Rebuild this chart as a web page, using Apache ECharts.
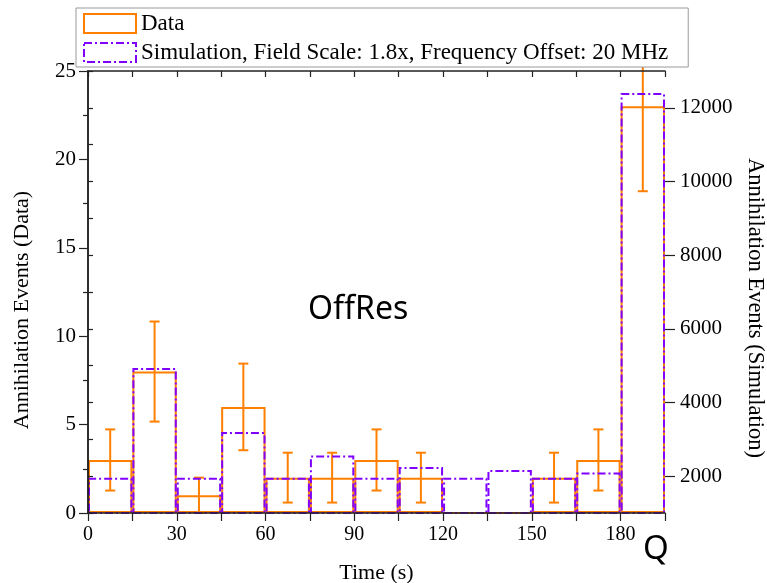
<!DOCTYPE html>
<html><head><meta charset="utf-8">
<script src="https://cdn.jsdelivr.net/npm/echarts@6/dist/echarts.min.js"></script>
<style>html,body{margin:0;padding:0;background:#fff}#c{width:767px;height:583px}</style>
</head><body><div id="c"></div>
<script>
// ---- data ----
const binLabels = ['0-15','15-30','30-45','45-60','60-75','75-90','90-105','105-120','120-135','135-150','150-165','165-180','180-195'];
const dataCounts = [3, 8, 1, 6, 2, 2, 3, 2, 0, 0, 2, 3, 23];
const dataErrLow = [1.27, 5.17, 0, 3.55, 0.59, 0.59, 1.27, 0.59, null, null, 0.59, 1.27, 18.2];
const dataErrHigh = [4.73, 10.83, 2, 8.45, 3.41, 3.41, 4.73, 3.41, null, null, 3.41, 4.73, 27.8];
const simCounts = [1960, 4935, 1960, 3200, 1960, 2560, 1960, 2250, 1960, 2170, 1960, 2100, 12400];
const xLabelTicks = [0, 30, 60, 90, 120, 150, 180];
const rightMajorTicks = [2000, 4000, 6000, 8000, 10000, 12000];
const seriesNames = ['Data', 'Simulation, Field Scale: 1.8x, Frequency Offset: 20 MHz'];

const ORANGE = '#ff8000';
const PURPLE = '#8000ff';
const AXIS = '#222';
const SERIF = '"Liberation Serif", "Times New Roman", serif';
const DASHDOT = [8, 3, 2, 3];

const errData = [];
dataErrLow.forEach((lo, i) => { if (lo !== null) errData.push([i, lo, dataErrHigh[i]]); });

const chart = echarts.init(document.getElementById('c'), null, {renderer: 'canvas'});
const axisLine = {show: true, lineStyle: {color: AXIS, width: 1.5}};
const tickStyle = {color: AXIS, width: 1.2};

chart.setOption({
  animation: false,
  backgroundColor: '#fff',
  grid: {left: 88, right: 102, top: 71, bottom: 70, containLabel: false, outerBoundsMode: 'none'},
  legend: {
    orient: 'vertical', left: 76, top: 8,
    padding: [4, 20, 3, 7], itemGap: 6,
    itemWidth: 52, itemHeight: 19,
    backgroundColor: '#fff', borderColor: '#999', borderWidth: 1,
    textStyle: {fontFamily: SERIF, fontSize: 23, color: '#000'},
    data: [
      {name: seriesNames[0], icon: 'rect', itemStyle: {color: 'transparent', borderColor: ORANGE, borderWidth: 2}},
      {name: seriesNames[1], icon: 'rect', itemStyle: {color: 'transparent', borderColor: PURPLE, borderWidth: 2, borderType: DASHDOT}}
    ]
  },
  xAxis: [
    {type: 'category', data: binLabels, show: false, boundaryGap: true, position: 'bottom'},
    {type: 'value', min: 0, max: 195, interval: 15, position: 'bottom', z: 10,
     axisLine: axisLine, axisTick: {show: true, length: 8, lineStyle: tickStyle},
     axisLabel: {show: true, margin: 12, fontFamily: SERIF, fontSize: 20, color: '#000',
       formatter: v => (xLabelTicks.indexOf(v) >= 0 ? String(v) : '')},
     splitLine: {show: false},
     name: 'Time (s)', nameLocation: 'middle', nameGap: 49,
     nameTextStyle: {fontFamily: SERIF, fontSize: 22, color: '#000'}},
    {type: 'value', min: 0, max: 195, interval: 15, position: 'top', z: 10,
     axisLine: axisLine, axisTick: {show: true, inside: true, length: 6, lineStyle: tickStyle},
     axisLabel: {show: false}, splitLine: {show: false}}
  ],
  yAxis: [
    {type: 'value', min: 0, max: 25, interval: 5, position: 'left', z: 10,
     axisLine: axisLine, axisTick: {show: true, length: 9, lineStyle: tickStyle},
     minorTick: {show: true, splitNumber: 2, length: 5, lineStyle: tickStyle},
     axisLabel: {show: true, margin: 12, fontFamily: SERIF, fontSize: 21, color: '#000'},
     splitLine: {show: false},
     name: 'Annihilation Events (Data)', nameLocation: 'middle', nameGap: 55,
     nameTextStyle: {fontFamily: SERIF, fontSize: 22, color: '#000', padding: [0, 36, 0, 0]}},
    {type: 'value', min: 1000, max: 13000, interval: 1000, position: 'right', z: 10,
     axisLine: axisLine, axisTick: {show: true, length: 5, lineStyle: tickStyle},
     axisLabel: {show: true, margin: 15, fontFamily: SERIF, fontSize: 21, color: '#000',
       formatter: v => (rightMajorTicks.indexOf(v) >= 0 ? String(v) : '')},
     splitLine: {show: false},
     name: 'Annihilation Events (Simulation)', nameLocation: 'middle', nameGap: 77, nameRotate: -90,
     nameTextStyle: {fontFamily: SERIF, fontSize: 22.5, color: '#000', padding: [0, 0, 0, 32]}},
    {type: 'value', min: 1000, max: 13000, interval: 1000, position: 'right', z: 10,
     axisLine: {show: false},
     axisTick: {show: true, length: 10, customValues: rightMajorTicks, lineStyle: tickStyle},
     axisLabel: {show: false}, splitLine: {show: false}}
  ],
  graphic: [
    {type: 'text', left: 308, top: 294, z: 20, style: {text: 'OffRes', font: '32px "Noto Sans"', fill: '#000'}},
    {type: 'text', left: 643, top: 533, z: 20, style: {text: 'Q', font: '33px "Noto Sans"', fill: '#000'}}
  ],
  series: [
    {name: seriesNames[0], type: 'bar', xAxisIndex: 0, yAxisIndex: 0,
     data: dataCounts, barWidth: '100%', barGap: '-100%', z: 2,
     itemStyle: {color: 'transparent', borderColor: ORANGE, borderWidth: 2}},
    {name: seriesNames[0] + ' err', type: 'custom', xAxisIndex: 0, yAxisIndex: 0, z: 3,
     data: errData,
     renderItem: function (params, api) {
       const i = api.value(0);
       const lo = api.coord([i, api.value(1)]);
       const hi = api.coord([i, api.value(2)]);
       const cw = 5;
       const st = {stroke: ORANGE, lineWidth: 2};
       return {type: 'group', children: [
         {type: 'line', shape: {x1: lo[0], y1: lo[1], x2: hi[0], y2: hi[1]}, style: st},
         {type: 'line', shape: {x1: lo[0] - cw, y1: lo[1], x2: lo[0] + cw, y2: lo[1]}, style: st},
         {type: 'line', shape: {x1: hi[0] - cw, y1: hi[1], x2: hi[0] + cw, y2: hi[1]}, style: st}
       ]};
     }},
    {name: seriesNames[1], type: 'bar', xAxisIndex: 0, yAxisIndex: 1,
     data: simCounts, barWidth: '100%', barGap: '-100%', z: 4,
     itemStyle: {color: 'transparent', borderColor: PURPLE, borderWidth: 2, borderType: DASHDOT}}
  ]
});
</script>
</body></html>
